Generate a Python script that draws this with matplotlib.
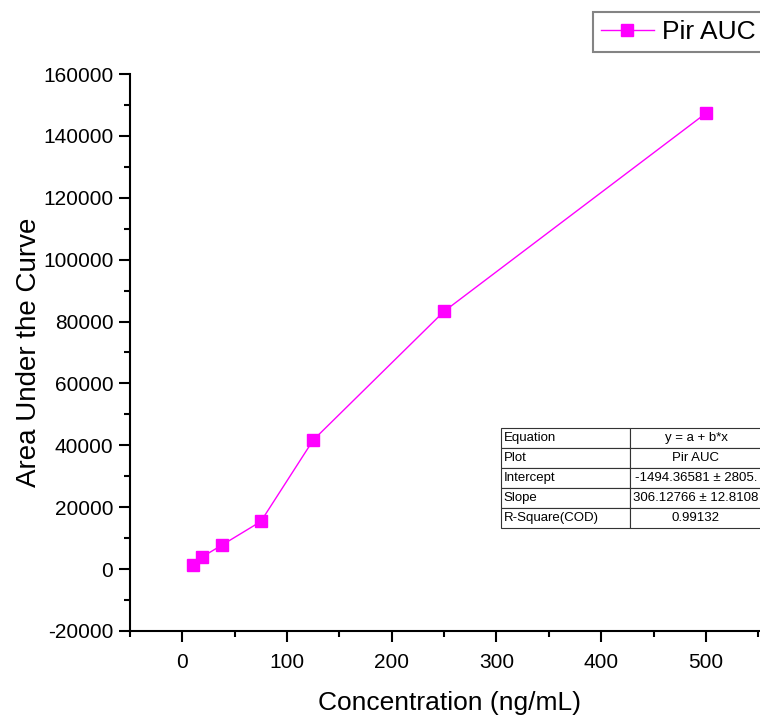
import matplotlib
matplotlib.use("Agg")
import matplotlib.pyplot as plt
from matplotlib.ticker import MultipleLocator

plt.rcParams['font.family'] = ['Liberation Sans', 'DejaVu Sans']
plt.rcParams['axes.unicode_minus'] = False

conc = [10, 18.75, 37.5, 75, 125, 250, 500]
auc = [1400, 3900, 7700, 15400, 41700, 83300, 147300]
series_name = "Pir AUC"

table_labels = ["Equation", "Plot", "Intercept", "Slope", "R-Square(COD)"]
table_values = ["y = a + b*x", "Pir AUC", "-1494.36581 ± 2805.", "306.12766 ± 12.8108", "0.99132"]

W, H = 760, 717
fig = plt.figure(figsize=(W / 100, H / 100), dpi=100)

x0, x1 = -50, 560
px_per_unit = 104.7 / 100
left_px, bottom_px, top_px = 130, 631, 74
width_px = (x1 - x0) * px_per_unit
ax = fig.add_axes([left_px / W, (H - bottom_px) / H, width_px / W, (bottom_px - top_px) / H])

ax.plot(conc, auc, color='#ff00ff', lw=1.0, marker='s', markersize=9,
        markerfacecolor='#ff00ff', markeredgecolor='#ff00ff', label=series_name)

ax.set_xlim(x0, x1)
ax.set_ylim(-20000, 160000)
ax.xaxis.set_major_locator(MultipleLocator(100))
ax.xaxis.set_minor_locator(MultipleLocator(50))
ax.yaxis.set_major_locator(MultipleLocator(20000))
ax.yaxis.set_minor_locator(MultipleLocator(10000))
for s in ['top', 'right']:
    ax.spines[s].set_visible(False)
for s in ['left', 'bottom']:
    ax.spines[s].set_linewidth(1.5)
ax.tick_params(which='major', direction='out', length=8, width=1.5, labelsize=15, pad=4)
ax.tick_params(axis='x', which='major', pad=7.5)
ax.tick_params(which='minor', direction='out', length=4, width=1.5)
ax.set_xlabel("Concentration (ng/mL)", fontsize=19, labelpad=14)
ax.set_ylabel("Area Under the Curve", fontsize=20, labelpad=1)

# legend
leg = fig.legend(loc='upper left', bbox_to_anchor=(593 / W, 1 - 12 / H), fontsize=19,
                 frameon=True, fancybox=False, edgecolor='#666666', borderpad=0.3,
                 handlelength=2.0, handletextpad=0.3, borderaxespad=0)
leg.get_frame().set_linewidth(1.5)

# table
tl, tt, tr, tb = 501, 428, 762, 528
tax = fig.add_axes([tl / W, (H - tb) / H, (tr - tl) / W, (tb - tt) / H])
tax.axis('off')
cells = [[a, b] for a, b in zip(table_labels, table_values)]
tbl = tax.table(cellText=cells, bbox=[0, 0, 1, 1], colWidths=[129, 132])
tbl.auto_set_font_size(False)
for (r, c), cell in tbl.get_celld().items():
    cell.set_fontsize(9.5)
    cell.set_linewidth(0.8)
    cell.set_edgecolor('#333333')
    cell.get_text().set_ha('left' if c == 0 else 'center')
    if c == 0:
        cell.PAD = 0.02
fig.savefig("out.png", dpi=100)
